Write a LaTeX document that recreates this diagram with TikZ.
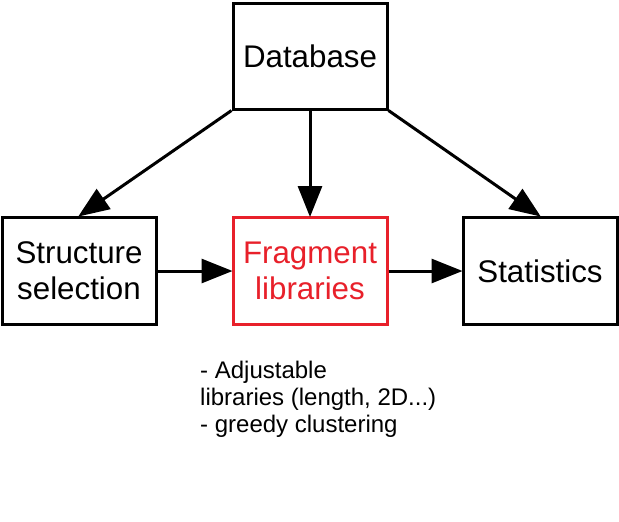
\documentclass[tikz,border=0pt]{standalone}
\usepackage{fontspec}
\setmainfont{Liberation Sans}
\usetikzlibrary{arrows.meta}
\definecolor{fragred}{HTML}{E8202A}
\begin{document}
\begin{tikzpicture}[x=1pt,y=-1pt,
  box/.style={draw, line width=3pt, minimum width=154pt, minimum height=107pt, inner sep=0pt, align=center, font=\fontsize{31.3}{36}\selectfont},
  conn/.style={line width=3pt, -{Triangle[length=31pt,width=24pt]}, shorten >=-1pt}]
\useasboundingbox (0,0) rectangle (619,522);
\fill[white] (0,0) rectangle (619,522);
\node[box, minimum height=106pt] (db) at (310,56) {Database};
\node[box] (ss) at (79,271) {Structure\\selection};
\node[box, draw=fragred, text=fragred] (fl) at (310,271) {Fragment\\libraries};
\node[box] (st) at (540,271) {Statistics};
\node[anchor=north west, inner sep=0pt, align=left, font=\fontsize{24}{27}\selectfont] (note) at (200,361) {- Adjustable\\libraries (length, 2D...)\\- greedy clustering};
\draw[conn] (db.south west) -- (ss.north);
\draw[conn] (db.south) -- (fl.north);
\draw[conn] (db.south east) -- (st.north);
\draw[conn] (ss.east) -- (fl.west);
\draw[conn] (fl.east) -- (st.west);
\end{tikzpicture}
\end{document}
